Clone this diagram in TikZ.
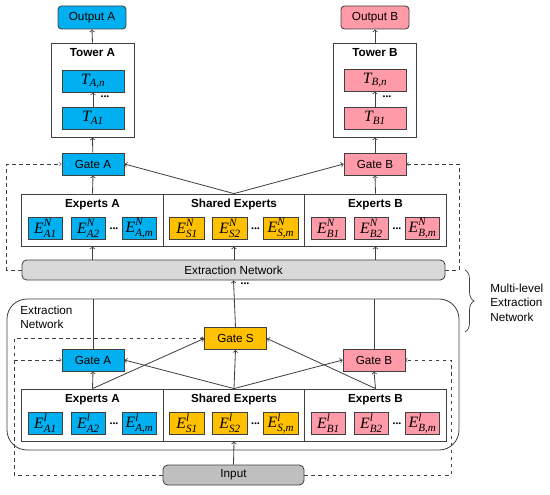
\documentclass[tikz,border=0pt]{standalone}
\usepackage{amsmath}
\usepackage{fontspec}
\setmainfont{Liberation Serif}
\setsansfont{Liberation Sans}
\usetikzlibrary{shapes,backgrounds}
\usetikzlibrary{arrows,decorations.pathreplacing}

\definecolor{blueA}{HTML}{00B0F0}
\definecolor{pinkB}{HTML}{FF9AA8}
\definecolor{goldS}{HTML}{FFC000}
\definecolor{barGray}{HTML}{D9D9D9}
\definecolor{inGray}{HTML}{BFBFBF}
\definecolor{lineGray}{HTML}{404040}

\newcommand{\ti}[1]{\textrm{\itshape #1}}
\newcommand{\ex}[2]{$\ti{E}^{\ti{#1}}_{\ti{#2}}$}

\tikzset{
  box/.style={draw=lineGray, inner sep=0pt, font=\sffamily},
  gatebox/.style={box, minimum width=18.6mm, minimum height=6.6mm},
  outbox/.style={gatebox, minimum width=20.4mm, minimum height=6.9mm, rounded corners=3pt},
  tbox/.style={gatebox, font=\fontsize{13.5}{14}\selectfont},
  towerbox/.style={box, minimum width=24.9mm, minimum height=28.2mm},
  section/.style={box, minimum width=42.45mm, minimum height=15.6mm},
  expbox/.style={box, minimum width=10.4mm, minimum height=6.4mm, font=\fontsize{13.5}{14}\selectfont},
  barbox/.style={box, rounded corners=4pt, minimum height=6mm},
  title/.style={font=\sffamily\bfseries},
  dashline/.style={dashed, line width=0.5pt},
}

\begin{document}
\begin{tikzpicture}[x=0.3mm, y=-0.3mm, line width=0.7pt, color=lineGray, >={to[scale=1.3]}, every node/.style={text=black}]
\useasboundingbox (0,0) rectangle (550,494);

% towers and outputs
\node[outbox, fill=blueA] (outA) at (92,17.5) {Output A};
\node[outbox, fill=pinkB] (outB) at (375,17.5) {Output B};
\node[towerbox] (towA) at (92.5,90) {};
\node[towerbox] (towB) at (375,90) {};
\node[title] (towAt) at (92.5,53) {Tower A};
\node[title] (towBt) at (375,53) {Tower B};
\node[tbox, fill=blueA] (tAn) at (93,81) {$\ti{T}_{\ti{A,n}}$};
\node[tbox, fill=blueA] (tA1) at (93,118) {$\ti{T}_{\ti{A1}}$};
\node[tbox, fill=pinkB] (tBn) at (375,80) {$\ti{T}_{\ti{B,n}}$};
\node[tbox, fill=pinkB] (tB1) at (375,118) {$\ti{T}_{\ti{B1}}$};
\node (dotA) at (105,97) {\textbf{...}};
\node (dotB) at (387,97) {\textbf{...}};

% gates
\node[gatebox, fill=blueA] (gateA) at (93,164) {Gate A};
\node[gatebox, fill=pinkB] (gateB) at (375,164) {Gate B};
\node[gatebox, fill=goldS] (gateS) at (235.5,338.5) {Gate S};
\node[gatebox, fill=blueA] (gateAl) at (93,360) {Gate A};
\node[gatebox, fill=pinkB] (gateBl) at (374,360) {Gate B};

% extraction network parts
\node[barbox, fill=barGray, minimum width=126.9mm] (extN) at (233.5,270) {Extraction Network};
\node[draw=lineGray, rounded corners=6mm, minimum width=135.6mm, minimum height=45.3mm] (extL) at (233,374.5) {};
\node[font=\sffamily, align=left, anchor=north west, inner sep=0pt] (extLt) at (20,306) {Extraction\\Network};
\node[barbox, fill=inGray, minimum width=42.3mm] (inp) at (233.5,475) {Input};

% expert rows
\foreach \ty/\lv/\nm in {194/N/up, 389/l/lo} {
  \foreach \sx/\sl/\sc/\st in {92.5/A/blueA/Experts A, 234/S/goldS/Shared Experts, 375.5/B/pinkB/Experts B} {
    \node[section] (\nm\sl) at (\sx,\ty+26) {};
    \node[title] (\nm\sl t) at (\sx,\ty+10.5) {\st};
    \node[expbox, fill=\sc] (\nm\sl1) at (\sx-47,\ty+34.5) {\ex{\lv}{\sl1}};
    \node[expbox, fill=\sc] (\nm\sl2) at (\sx-4,\ty+34.5) {\ex{\lv}{\sl2}};
    \node[expbox, fill=\sc] (\nm\sl m) at (\sx+47,\ty+34.5) {\ex{\lv}{\sl,m}};
    \node (\nm\sl d) at (\sx+21.5,\ty+35) {\textbf{...}};
  }
}

% top level
\draw[->] (towA.north) -- (outA.south);
\draw[->] (towB.north) -- (outB.south);
\draw[->] (tA1) -- (tAn);
\draw[->] (tB1) -- (tBn);
\draw[->] (gateA) -- (towA.south);
\draw[->] (gateB) -- (towB.south);
\draw[->] (upA.north) -- (gateA.south);
\draw[->] (upS.north) -- (gateA.east);
\draw[->] (upS.north) -- (gateB.west);
\draw[->] (upB.north) -- (gateB.south);
\draw[->] (upA.south |- extN.north) -- (upA.south);
\draw[->] (upS.south |- extN.north) -- (upS.south);
\draw[->] (upB.south |- extN.north) -- (upB.south);
\draw[dashline, ->] (extN.west) -- ++(-15,0) |- (gateA.west);
\draw[dashline, ->] (extN.east) -- ++(14,0) |- (gateB.east);

% between levels
\draw[->] (gateS.north) -- (extN.south);
\node (dotE) at (245,284) {\textbf{...}};
\draw (gateAl.north) -- (gateAl.north |- extL.north);
\draw (gateBl.north) -- (gateBl.north |- extL.north);

% lower level
\draw[->] (loA.north) -- (gateAl.south);
\draw[->] (loA.north) -- (gateS.west);
\draw[->] (loS.north) -- (gateAl.east);
\draw[->] (loS.north) -- (gateS.south);
\draw[->] (loS.north) -- (gateBl.west);
\draw[->] (loB.north) -- (gateBl.south);
\draw[->] (loB.north) -- (gateS.east);
\draw[->] (inp.north) -- (loS.south);
\coordinate (dl) at (14,338.5);
\draw[dashline, ->] (inp.west) -| (dl) -- (gateS.west);
\draw[dashline, ->] (dl |- gateAl) -- (gateAl.west);
\draw[dashline, ->] (inp.east) -- ++(147,0) |- (gateBl.east);

% brace
\coordinate (brT) at (465,270);
\coordinate (brB) at (465,332);
\draw[decorate, decoration={brace, amplitude=2.7mm}, line width=0.6pt] (brT) -- (brB);
\node[font=\sffamily\fontsize{10}{12.4}\selectfont, align=left, anchor=west, inner sep=0pt] (mlen) at (490,302.5) {Multi-level\\Extraction\\Network};
\end{tikzpicture}
\end{document}
